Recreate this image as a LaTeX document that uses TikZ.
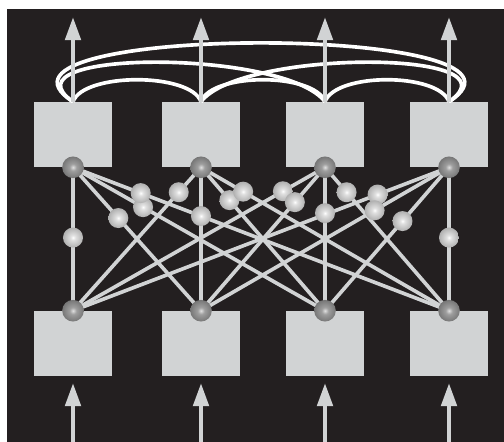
\documentclass[tikz,border=0pt]{standalone}
\usepackage{tikz}
\usetikzlibrary{arrows.meta,positioning,calc}
\definecolor{panel}{RGB}{35,31,32}
\definecolor{unitgray}{RGB}{209,211,212}
\pgfdeclareradialshading{darksphere}{\pgfpoint{0bp}{0bp}}{color(0bp)=(white!88!black);color(8bp)=(white!62!black);color(30bp)=(black!58);color(50bp)=(black!72)}
\pgfdeclareradialshading{litesphere}{\pgfpoint{0bp}{0bp}}{color(0bp)=(white);color(6bp)=(white!88!black);color(30bp)=(white!64!black);color(50bp)=(white!46!black)}

\begin{document}
\begin{tikzpicture}[>={Triangle[width=0.38cm,length=0.58cm]},
  unit/.style={rectangle,fill=unitgray,minimum width=1.95cm,minimum height=1.625cm,inner sep=0pt},
  link/.style={draw=unitgray,line width=2.6pt},
  feed/.style={draw=unitgray,line width=3.2pt,->},
  loop/.style={draw=white,line width=2.6pt},
  darkball/.style={circle,shading=darksphere,minimum size=0.54cm,inner sep=0pt},
  liteball/.style={circle,shading=litesphere,minimum size=0.5cm,inner sep=0pt}]
  \useasboundingbox (0,0) rectangle (12.6,11.05);
  \fill[panel] (0.175,0) rectangle (12.6,10.825);
  % units: output row on top, input row below
  \foreach \x [count=\i] in {1.825,5.025,8.125,11.225}{
    \node[unit] (out\i) at (\x,7.6875) {};
    \node[unit] (in\i) at (\x,2.4625) {};
    \coordinate (top\i) at (\x,10.625);
    \coordinate (src\i) at (\x,0);
    \coordinate (tip\i) at (\x,1.475);
    \coordinate (s\i) at (out\i.south);
    \coordinate (b\i) at (in\i.north);
  }
  % lateral loops between outputs
  \draw[loop] (out1.north) to[out=147,in=33,distance=3.6cm] (out4.north);
  \draw[loop] (out1.north) to[out=145,in=127,out distance=2.3cm,in distance=1.65cm] (out3.north);
  \draw[loop] (out2.north) to[out=53,in=35,out distance=1.65cm,in distance=2.3cm] (out4.north);
  \draw[loop] (out1.north) to[out=70,in=110,distance=0.78cm] (out2.north);
  \draw[loop] (out2.north) to[out=70,in=110,distance=0.78cm] (out3.north);
  \draw[loop] (out3.north) to[out=70,in=110,distance=0.78cm] (out4.north);
  \foreach \i in {1,...,4}{
    \draw[feed] (out\i.north) -- (top\i);
    \draw[feed] (src\i) -- (tip\i);
  }
  % full connections, one weight per link
  \foreach \i/\tl in {1/{0.49,0.354,0.278,0.18},2/{0.174,0.34,0.229,0.17},
                      3/{0.167,0.243,0.32,0.174},4/{0.19,0.30,0.375,0.49}}{
    \foreach \t [count=\j] in \tl
      \draw[link] (s\i) -- coordinate[pos=\t] (w\i\j) (b\j);
  }
  \foreach \i in {1,...,4}{
    \foreach \j in {1,...,4}
      \node[liteball] (m\i\j) at (w\i\j) {};
  }
  \foreach \i in {1,...,4}{
    \node[darkball] (ds\i) at (s\i) {};
    \node[darkball] (db\i) at (b\i) {};
  }
\end{tikzpicture}
\end{document}
